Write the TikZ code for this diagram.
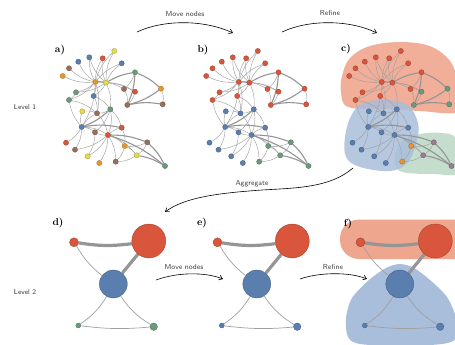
\documentclass[tikz,border=0pt]{standalone}
\usetikzlibrary{arrows.meta}
\definecolor{cred}{HTML}{D9553C}
\definecolor{cblue}{HTML}{5A7FAE}
\definecolor{cgreen}{HTML}{6B9A7C}
\definecolor{corange}{HTML}{E8952E}
\definecolor{cyellow}{HTML}{E6DA48}
\definecolor{cbrown}{HTML}{9B6E5C}
\definecolor{cmauve}{HTML}{9D7A93}
\definecolor{rred}{HTML}{EFA68E}
\definecolor{rblue}{HTML}{A9BEDB}
\definecolor{rgreen}{HTML}{BFD9C6}
\definecolor{edgegray}{HTML}{A0A0A0}
\definecolor{thickgray}{HTML}{959595}
\pgfdeclarelayer{regions}
\pgfdeclarelayer{edges}
\pgfsetlayers{regions,edges,main}
\tikzset{
  gnode/.style={circle,inner sep=0pt,minimum size=5.2pt,line width=0.3pt},
  gedge/.style={draw=edgegray,line width=0.45pt},
  gthick/.style={draw=thickgray,line width=1.1pt},
  bnode/.style={circle,inner sep=0pt,line width=0.3pt},
  bthin/.style={draw=edgegray,line width=0.7pt},
  bthick/.style={draw=thickgray,line width=3.2pt},
  flow/.style={line width=0.6pt,-{Straight Barb[length=3.5pt,width=5pt]}},
  flowlabel/.style={font=\sffamily\fontsize{7.3}{8}\selectfont,text=black!75},
  panellabel/.style={font=\bfseries\fontsize{10}{11}\selectfont},
  levellabel/.style={font=\sffamily\fontsize{7}{8}\selectfont,text=black!80},
}
\def\nodelist{1/114.3/51/cyellow/cred/cred,2/89.3/57.3/cblue/cred/cred,3/102.7/58.3/cred/cred/cred,4/78.3/61.7/cblue/cred/cred,5/121.7/63.3/cblue/cred/cred,6/69/68.3/cbrown/cred/cred,7/62.7/76/corange/cred/cred,8/135/72.3/cgreen/cred/cred,9/95.3/82/corange/cred/cred,10/106/82.7/cyellow/cred/cred,11/124/89/cbrown/cred/cred,12/135/91.7/cred/cred/cgreen,13/161/88.7/corange/cred/cgreen,14/76/92.3/cgreen/cred/cred,15/93.7/96/cblue/cred/cred,16/69/100/cgreen/cred/cred,17/127.3/105/cbrown/cred/cgreen,18/162.7/104.3/cbrown/cred/cgreen,19/82.3/111.3/cyellow/cblue/cblue,20/97/113.3/cbrown/cblue/cblue,21/110.3/109.3/cgreen/cblue/cblue,22/81.7/127/cblue/cblue/cblue,23/121.7/127.7/cred/cblue/cblue,24/95/132.3/cbrown/cblue/cblue,25/108/135/cred/cblue/cblue,26/66/142.7/cred/cblue/cblue,27/147.3/142.3/cbrown/cgreen/cmauve,28/124.7/146/corange/cgreen/corange,29/75/149.7/cbrown/cblue/cblue,30/136.7/155.3/cyellow/cgreen/cmauve,31/87.7/156.3/cyellow/cblue/cblue,32/99.3/163/corange/cblue/cblue,33/115.7/161.7/cbrown/cgreen/corange,34/165/166/cgreen/cgreen/cmauve}
\def\edgelist{9/1,9/2,9/3,9/4,9/5,9/6,9/7,9/11,9/14,9/15,9/16,9/20,9/22,9/12,10/1,10/3,10/5,10/12,10/14,10/15,10/21,10/2,8/11,11/17,12/17,14/16,15/21,15/20,16/20,21/20,21/23,21/25,21/24,22/19,22/20,22/24,22/25,22/26,22/29,22/16,19/20,20/25,25/23,25/24,25/28,25/30,25/31,25/32,25/33,25/29,27/28,27/30,28/30,28/33,30/33,23/28,24/31,13/18}
\def\thicklist{9/10,10/8,8/13,8/17,13/17,17/18,21/22,22/23,25/27,25/34,27/34,30/34}
\newcommand\toppanel[3]{%
  \begin{scope}[xshift=#2]
    \foreach \i/\x/\y/\ca/\cb/\cc in \nodelist {%
      \ifcase#3\or\def\col{\ca}\or\def\col{\cb}\or\def\col{\cc}\fi
      \node[gnode,fill=\col,draw=\col!70!black] (#1\i) at (\x,\y) {};
    }
  \end{scope}
  \begin{pgfonlayer}{edges}
    \foreach \u/\v in \edgelist {\draw[gedge] (#1\u) to[bend left=14] (#1\v);}
    \foreach \u/\v in \thicklist {\draw[gthick] (#1\u) to[bend left=10] (#1\v);}
  \end{pgfonlayer}}
\newcommand\bottompanel[3]{% prefix, xshift, colour of the two lower nodes
  \begin{scope}[xshift=#2]
    \node[bnode,fill=cred,draw=cred!70!black,minimum size=9pt] (#1s) at (74,242.3) {};
    \node[bnode,fill=cred,draw=cred!70!black,minimum size=34pt] (#1r) at (148.8,241) {};
    \node[bnode,fill=cblue,draw=cblue!70!black,minimum size=28pt] (#1b) at (113.3,284) {};
    \node[bnode,fill=#3,draw=#3!70!black,minimum size=5pt] (#1l) at (78.3,325.5) {};
    \node[bnode,fill=#3,draw=#3!70!black,minimum size=7.5pt] (#1m) at (153.7,326.7) {};
  \end{scope}
  \begin{pgfonlayer}{edges}
    \draw[bthick] (#1s) to[bend right=8] (#1r);
    \draw[bthick] (#1r) -- (#1b);
    \draw[bthin] (#1s) to[bend right=10] (#1b);
    \draw[bthin] (#1b) to[bend left=12] (#1l);
    \draw[bthin] (#1b) to[bend right=12] (#1m);
    \draw[bthin] (#1l) to[bend right=6] (#1m);
  \end{pgfonlayer}}
\begin{document}
\begin{tikzpicture}[x=1pt,y=-1pt]
\useasboundingbox (0,0) rectangle (455,345);
\clip (0,0) rectangle (455,345);
% regions of panel c
\begin{pgfonlayer}{regions}
  \fill[rred,opacity=0.9] plot[smooth cycle,tension=0.6] coordinates {(342,76) (350,58) (370,46) (402,42) (432,47) (452,64) (458,90) (458,112) (420,111) (385,109) (348,107) (341,92)};
  \fill[rgreen,opacity=0.9] plot[smooth cycle,tension=0.6] coordinates {(396,152) (403,140) (420,134) (441,133) (456,139) (460,172) (433,174) (402,172) (395,163)};
  \fill[rblue,opacity=0.85] plot[smooth cycle,tension=0.6] coordinates {(345,137) (351,116) (363,103) (387,100) (408,105) (418,123) (417,140) (408,162) (390,171) (360,167) (346,157)};
  % regions of panel f
  \fill[rred] (340,219.5) [rounded corners=19pt] rectangle (478,259);
  \fill[rblue] plot[smooth cycle,tension=0.5] coordinates {(400,264) (414,268) (430,280) (447,297) (456,318) (456,338) (442,344) (400,346) (360,344) (348,337) (346,318) (352,298) (369,280) (386,268)};
\end{pgfonlayer}
\toppanel{a}{0pt}{1}
\toppanel{b}{143.5pt}{2}
\toppanel{c}{286.5pt}{3}
\bottompanel{d}{0pt}{cgreen}
\bottompanel{e}{143.5pt}{cblue}
\bottompanel{f}{286.5pt}{cblue}
% panel labels
\node[panellabel] (la) at (60,50) {a)};
\node[panellabel] (lb) at (203,50) {b)};
\node[panellabel] (lc) at (346,49) {c)};
\node[panellabel] (ld) at (58,223) {d)};
\node[panellabel] (le) at (202,223) {e)};
\node[panellabel] (lf) at (348,224) {f)};
\node[levellabel] (lv1) at (25,107) {Level 1};
\node[levellabel] (lv2) at (25,292) {Level 2};
% process arrows
\coordinate (m1s) at (137,32); \coordinate (m1e) at (233,33);
\draw[flow] (m1s) .. controls (165,19) and (205,20) .. (m1e);
\node[flowlabel] (m1t) at (185,14) {Move nodes};
\coordinate (r1s) at (282,32); \coordinate (r1e) at (377,33);
\draw[flow] (r1s) .. controls (310,19) and (350,20) .. (r1e);
\node[flowlabel] (r1t) at (330,13) {Refine};
\coordinate (ags) at (353,168); \coordinate (agm) at (262,190); \coordinate (age) at (165,212);
\draw[flow] (ags) .. controls (330,188) and (295,188) .. (agm) .. controls (220,193) and (185,197) .. (age);
\node[flowlabel] (agt) at (252,184) {Aggregate};
\coordinate (m2s) at (156,280); \coordinate (m2e) at (223,279);
\draw[flow] (m2s) .. controls (178,272) and (205,272) .. (m2e);
\node[flowlabel] (m2t) at (184,267) {Move nodes};
\coordinate (r2s) at (300,279); \coordinate (r2e) at (367,279);
\draw[flow] (r2s) .. controls (320,272) and (350,272) .. (r2e);
\node[flowlabel] (r2t) at (333,267) {Refine};
\end{tikzpicture}
\end{document}
